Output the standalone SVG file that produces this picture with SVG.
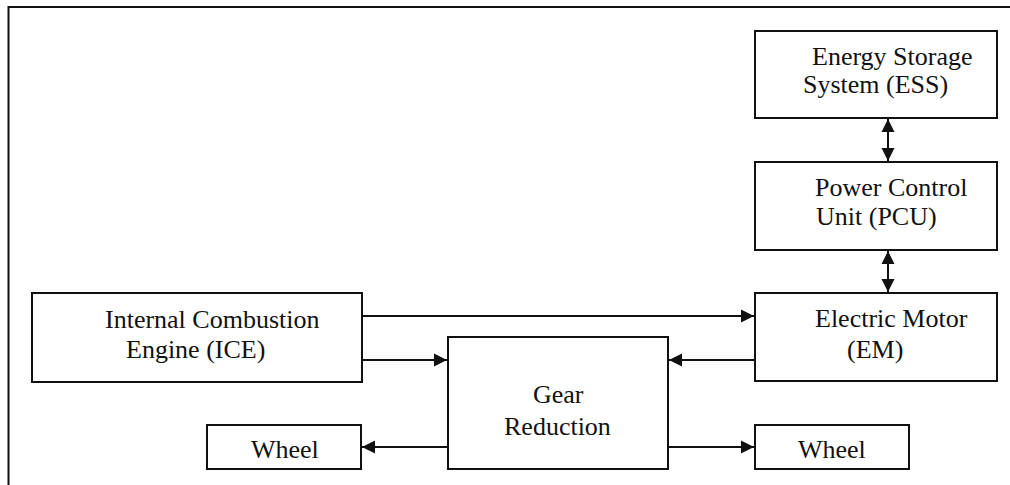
<svg xmlns="http://www.w3.org/2000/svg" width="1010" height="485" viewBox="0 0 1010 485">
<style>
.box{fill:#fff;stroke:#111;stroke-width:2}
.lbl{font-family:'Liberation Serif','DejaVu Serif',serif;font-size:26px;fill:#111}
.ln{stroke:#111;stroke-width:2;fill:none}
</style>
<defs>
<marker id="ah" markerUnits="userSpaceOnUse" markerWidth="14" markerHeight="14" refX="13" refY="7" orient="auto-start-reverse" viewBox="0 0 14 14">
<path d="M0,0.5 L13,7 L0,13.5 Z" fill="#111"/>
</marker>
</defs>
<rect x="0" y="0" width="1010" height="485" fill="#fff"/>
<rect id="frame" x="8.5" y="7" width="1100" height="600" fill="none" stroke="#111" stroke-width="2"/>
<g font-family="Liberation Serif, DejaVu Serif, serif">
<g id="ess"><rect class="box" x="755" y="31" width="242" height="87"/>
<text class="lbl" x="812" y="65">Energy Storage</text>
<text class="lbl" x="803" y="93">System (ESS)</text></g>
<g id="pcu"><rect class="box" x="755" y="162" width="242" height="88"/>
<text class="lbl" x="815" y="196">Power Control</text>
<text class="lbl" x="816" y="225">Unit (PCU)</text></g>
<g id="em"><rect class="box" x="755" y="293" width="242" height="88"/>
<text class="lbl" x="815" y="327">Electric Motor</text>
<text class="lbl" x="847" y="358">(EM)</text></g>
<g id="ice"><rect class="box" x="32" y="293" width="330" height="89"/>
<text class="lbl" x="105" y="328">Internal Combustion</text>
<text class="lbl" x="126" y="358">Engine (ICE)</text></g>
<g id="gear"><rect class="box" x="448" y="337" width="220" height="132"/>
<text class="lbl" x="533" y="403">Gear</text>
<text class="lbl" x="504" y="435">Reduction</text></g>
<g id="wheel-left"><rect class="box" x="207" y="425" width="154" height="44"/>
<text class="lbl" x="251" y="458">Wheel</text></g>
<g id="wheel-right"><rect class="box" x="755" y="425" width="154" height="44"/>
<text class="lbl" x="798" y="458">Wheel</text></g>
</g>
<g id="connectors">
<line class="ln" x1="888" y1="119" x2="888" y2="161" marker-start="url(#ah)" marker-end="url(#ah)"/>
<line class="ln" x1="888" y1="251" x2="888" y2="292" marker-start="url(#ah)" marker-end="url(#ah)"/>
<line class="ln" x1="362" y1="316" x2="754" y2="316" marker-end="url(#ah)"/>
<line class="ln" x1="362" y1="360" x2="447" y2="360" marker-end="url(#ah)"/>
<line class="ln" x1="755" y1="360" x2="669" y2="360" marker-end="url(#ah)"/>
<line class="ln" x1="448" y1="447" x2="362" y2="447" marker-end="url(#ah)"/>
<line class="ln" x1="668" y1="447" x2="754" y2="447" marker-end="url(#ah)"/>
</g>
</svg>
